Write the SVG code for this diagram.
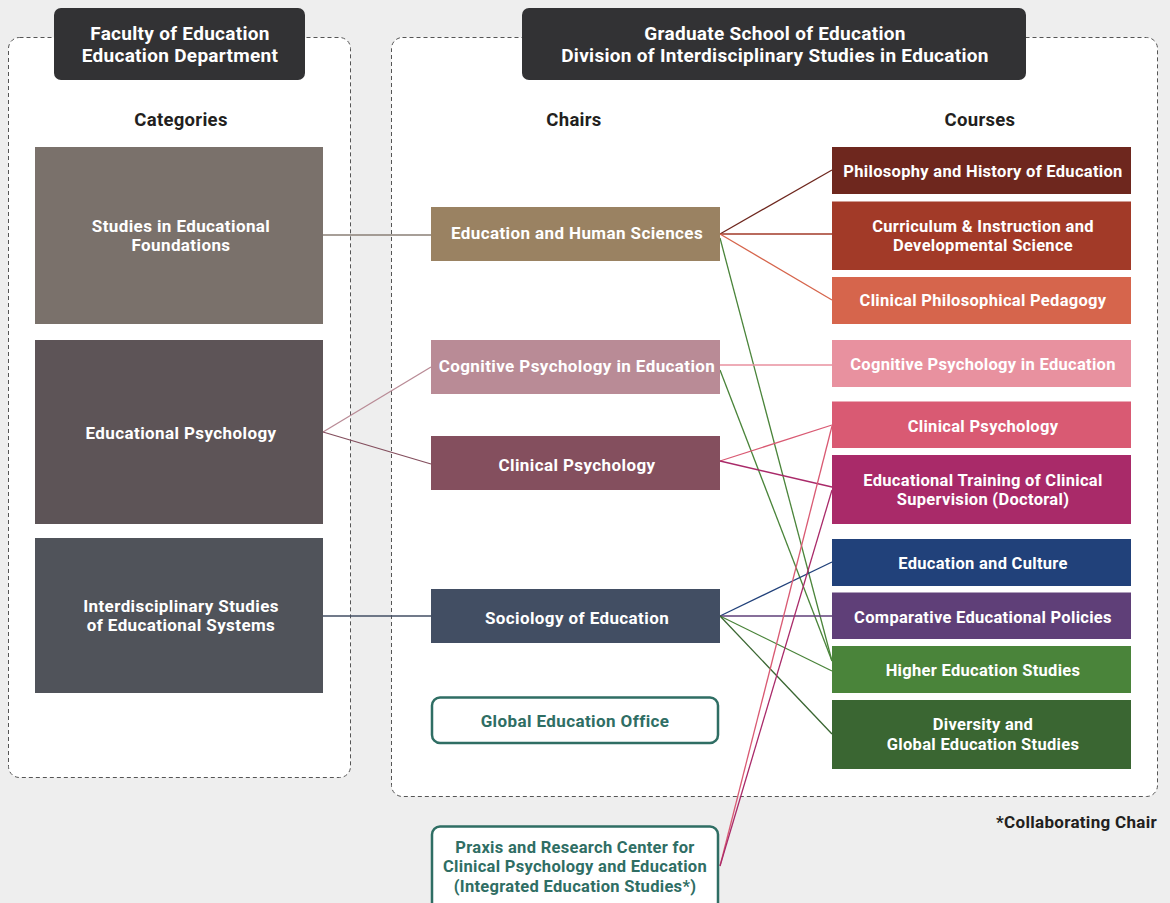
<svg xmlns="http://www.w3.org/2000/svg" width="1170" height="903" viewBox="0 0 1170 903">
<style>
  text { font-family: Roboto, "Liberation Sans", sans-serif; font-weight: 700; text-anchor: middle; }
  .hdr { fill: #ffffff; font-size: 19px; letter-spacing: 0.3px; }
  .col { fill: #231f20; font-size: 18.5px; letter-spacing: 0.3px; }
  .box { fill: #ffffff; font-size: 17px; letter-spacing: 0.4px; }
  .crs { fill: #ffffff; font-size: 16.5px; letter-spacing: 0.3px; }
  .teal { fill: #2f6e64; font-size: 17px; letter-spacing: 0.4px; }
  .teal2 { fill: #2f6e64; font-size: 16.5px; letter-spacing: 0.3px; }
  .panel { fill: #ffffff; stroke: #555555; stroke-width: 1; stroke-dasharray: 4 3; }
  .hbox { fill: #323234; }
  .obox { fill: #ffffff; stroke: #2f6e64; stroke-width: 2.5; }
  #connectors line { stroke-width: 1.3; fill: none; }
</style>
<rect width="1170" height="903" fill="#eeeeee"/>

<g id="panel-left"><rect class="panel" x="8.5" y="37.5" width="342" height="740" rx="11"/></g>
<g id="panel-right"><rect class="panel" x="391.5" y="37.5" width="766" height="759" rx="11"/></g>

<g id="header-left">
  <rect class="hbox" x="54" y="8" width="251" height="72" rx="7"/>
  <text class="hdr" x="180" y="40">Faculty of Education</text>
  <text class="hdr" x="180" y="62">Education Department</text>
</g>
<g id="header-right">
  <rect class="hbox" x="522" y="8" width="504" height="72" rx="7"/>
  <text class="hdr" x="775" y="40">Graduate School of Education</text>
  <text class="hdr" x="775" y="62">Division of Interdisciplinary Studies in Education</text>
</g>

<g id="col-titles">
  <text class="col" x="181" y="126">Categories</text>
  <text class="col" x="574" y="126">Chairs</text>
  <text class="col" x="980" y="126">Courses</text>
</g>

<g id="connectors">
  <line x1="323" y1="235" x2="431" y2="235" stroke="#8a7f76"/>
  <line x1="323" y1="432" x2="431" y2="367" stroke="#b98b96"/>
  <line x1="323" y1="432" x2="431" y2="464" stroke="#844f5e"/>
  <line x1="323" y1="616" x2="431" y2="616" stroke="#424e63"/>

  <line x1="720" y1="234" x2="832" y2="170" stroke="#6e271e"/>
  <line x1="720" y1="234" x2="832" y2="234" stroke="#a23a28"/>
  <line x1="720" y1="234" x2="832" y2="300" stroke="#d6654c"/>
  <line x1="720" y1="238" x2="832" y2="661" stroke="#4a843a"/>

  <line x1="720" y1="365" x2="832" y2="365" stroke="#e8919f"/>
  <line x1="720" y1="370" x2="832" y2="661" stroke="#4a843a"/>

  <line x1="720" y1="461" x2="832" y2="425" stroke="#d95a73"/>
  <line x1="720" y1="461" x2="832" y2="487" stroke="#a92a69"/>

  <line x1="720" y1="616" x2="832" y2="562" stroke="#21417a"/>
  <line x1="720" y1="616" x2="832" y2="616" stroke="#5f3f78"/>
  <line x1="720" y1="616" x2="832" y2="671" stroke="#4a843a"/>
  <line x1="720" y1="616" x2="832" y2="734" stroke="#3a6632"/>

  <line x1="720" y1="866" x2="832" y2="426" stroke="#d95a73"/>
  <line x1="720" y1="866" x2="832" y2="490" stroke="#a92a69"/>
</g>

<g id="cat-foundations">
  <rect x="35" y="147" width="288" height="177" fill="#7a716b"/>
  <text class="box" x="181" y="232">Studies in Educational</text>
  <text class="box" x="181" y="251">Foundations</text>
</g>
<g id="cat-edpsych">
  <rect x="35" y="340" width="288" height="184" fill="#5d5457"/>
  <text class="box" x="181" y="439">Educational Psychology</text>
</g>
<g id="cat-interdisciplinary">
  <rect x="35" y="538" width="288" height="155" fill="#50535a"/>
  <text class="box" x="181" y="612">Interdisciplinary Studies</text>
  <text class="box" x="181" y="631">of Educational Systems</text>
</g>

<g id="chair-ehs">
  <rect x="431" y="207" width="289" height="54" fill="#9a8262"/>
  <text class="box" x="577" y="239">Education and Human Sciences</text>
</g>
<g id="chair-cogpsych">
  <rect x="431" y="340" width="289" height="54" fill="#b98b96"/>
  <text class="box" x="577" y="372">Cognitive Psychology in Education</text>
</g>
<g id="chair-clinpsych">
  <rect x="431" y="436" width="289" height="54" fill="#844f5e"/>
  <text class="box" x="577" y="471">Clinical Psychology</text>
</g>
<g id="chair-sociology">
  <rect x="431" y="589" width="289" height="54" fill="#424e63"/>
  <text class="box" x="577" y="624">Sociology of Education</text>
</g>
<g id="chair-global">
  <rect class="obox" x="432" y="697.5" width="286" height="45.5" rx="8"/>
  <text class="teal" x="575" y="727">Global Education Office</text>
</g>
<g id="chair-praxis">
  <rect class="obox" x="432" y="826.5" width="286" height="100" rx="8"/>
  <text class="teal2" x="575" y="853">Praxis and Research Center for</text>
  <text class="teal2" x="575" y="872">Clinical Psychology and Education</text>
  <text class="teal2" x="575" y="892">(Integrated Education Studies*)</text>
</g>

<g id="course-philosophy">
  <rect x="832" y="147" width="299" height="47" fill="#6e271e"/>
  <text class="crs" x="983" y="177">Philosophy and History of Education</text>
</g>
<g id="course-curriculum">
  <rect x="832" y="201.5" width="299" height="68.5" fill="#a23a28"/>
  <text class="crs" x="983" y="232">Curriculum &amp; Instruction and</text>
  <text class="crs" x="983" y="251">Developmental Science</text>
</g>
<g id="course-cpp">
  <rect x="832" y="277" width="299" height="47" fill="#d6654c"/>
  <text class="crs" x="983" y="306">Clinical Philosophical Pedagogy</text>
</g>
<g id="course-cogpsych">
  <rect x="832" y="340" width="299" height="47" fill="#e8919f"/>
  <text class="crs" x="983" y="370">Cognitive Psychology in Education</text>
</g>
<g id="course-clinpsych">
  <rect x="832" y="401.5" width="299" height="46.5" fill="#d95a73"/>
  <text class="crs" x="983" y="432">Clinical Psychology</text>
</g>
<g id="course-training">
  <rect x="832" y="455" width="299" height="69" fill="#a92a69"/>
  <text class="crs" x="983" y="486">Educational Training of Clinical</text>
  <text class="crs" x="983" y="505">Supervision (Doctoral)</text>
</g>
<g id="course-culture">
  <rect x="832" y="539" width="299" height="47" fill="#21417a"/>
  <text class="crs" x="983" y="569">Education and Culture</text>
</g>
<g id="course-comparative">
  <rect x="832" y="592.5" width="299" height="46.5" fill="#5f3f78"/>
  <text class="crs" x="983" y="623">Comparative Educational Policies</text>
</g>
<g id="course-higher">
  <rect x="832" y="646" width="299" height="47" fill="#4a843a"/>
  <text class="crs" x="983" y="676">Higher Education Studies</text>
</g>
<g id="course-diversity">
  <rect x="832" y="700" width="299" height="69" fill="#3a6632"/>
  <text class="crs" x="983" y="730">Diversity and</text>
  <text class="crs" x="983" y="750">Global Education Studies</text>
</g>

<g id="note">
  <text x="1157" y="828" style="text-anchor:end; font-size:17px; letter-spacing:0.3px; fill:#231f20;">*Collaborating Chair</text>
</g>
</svg>
